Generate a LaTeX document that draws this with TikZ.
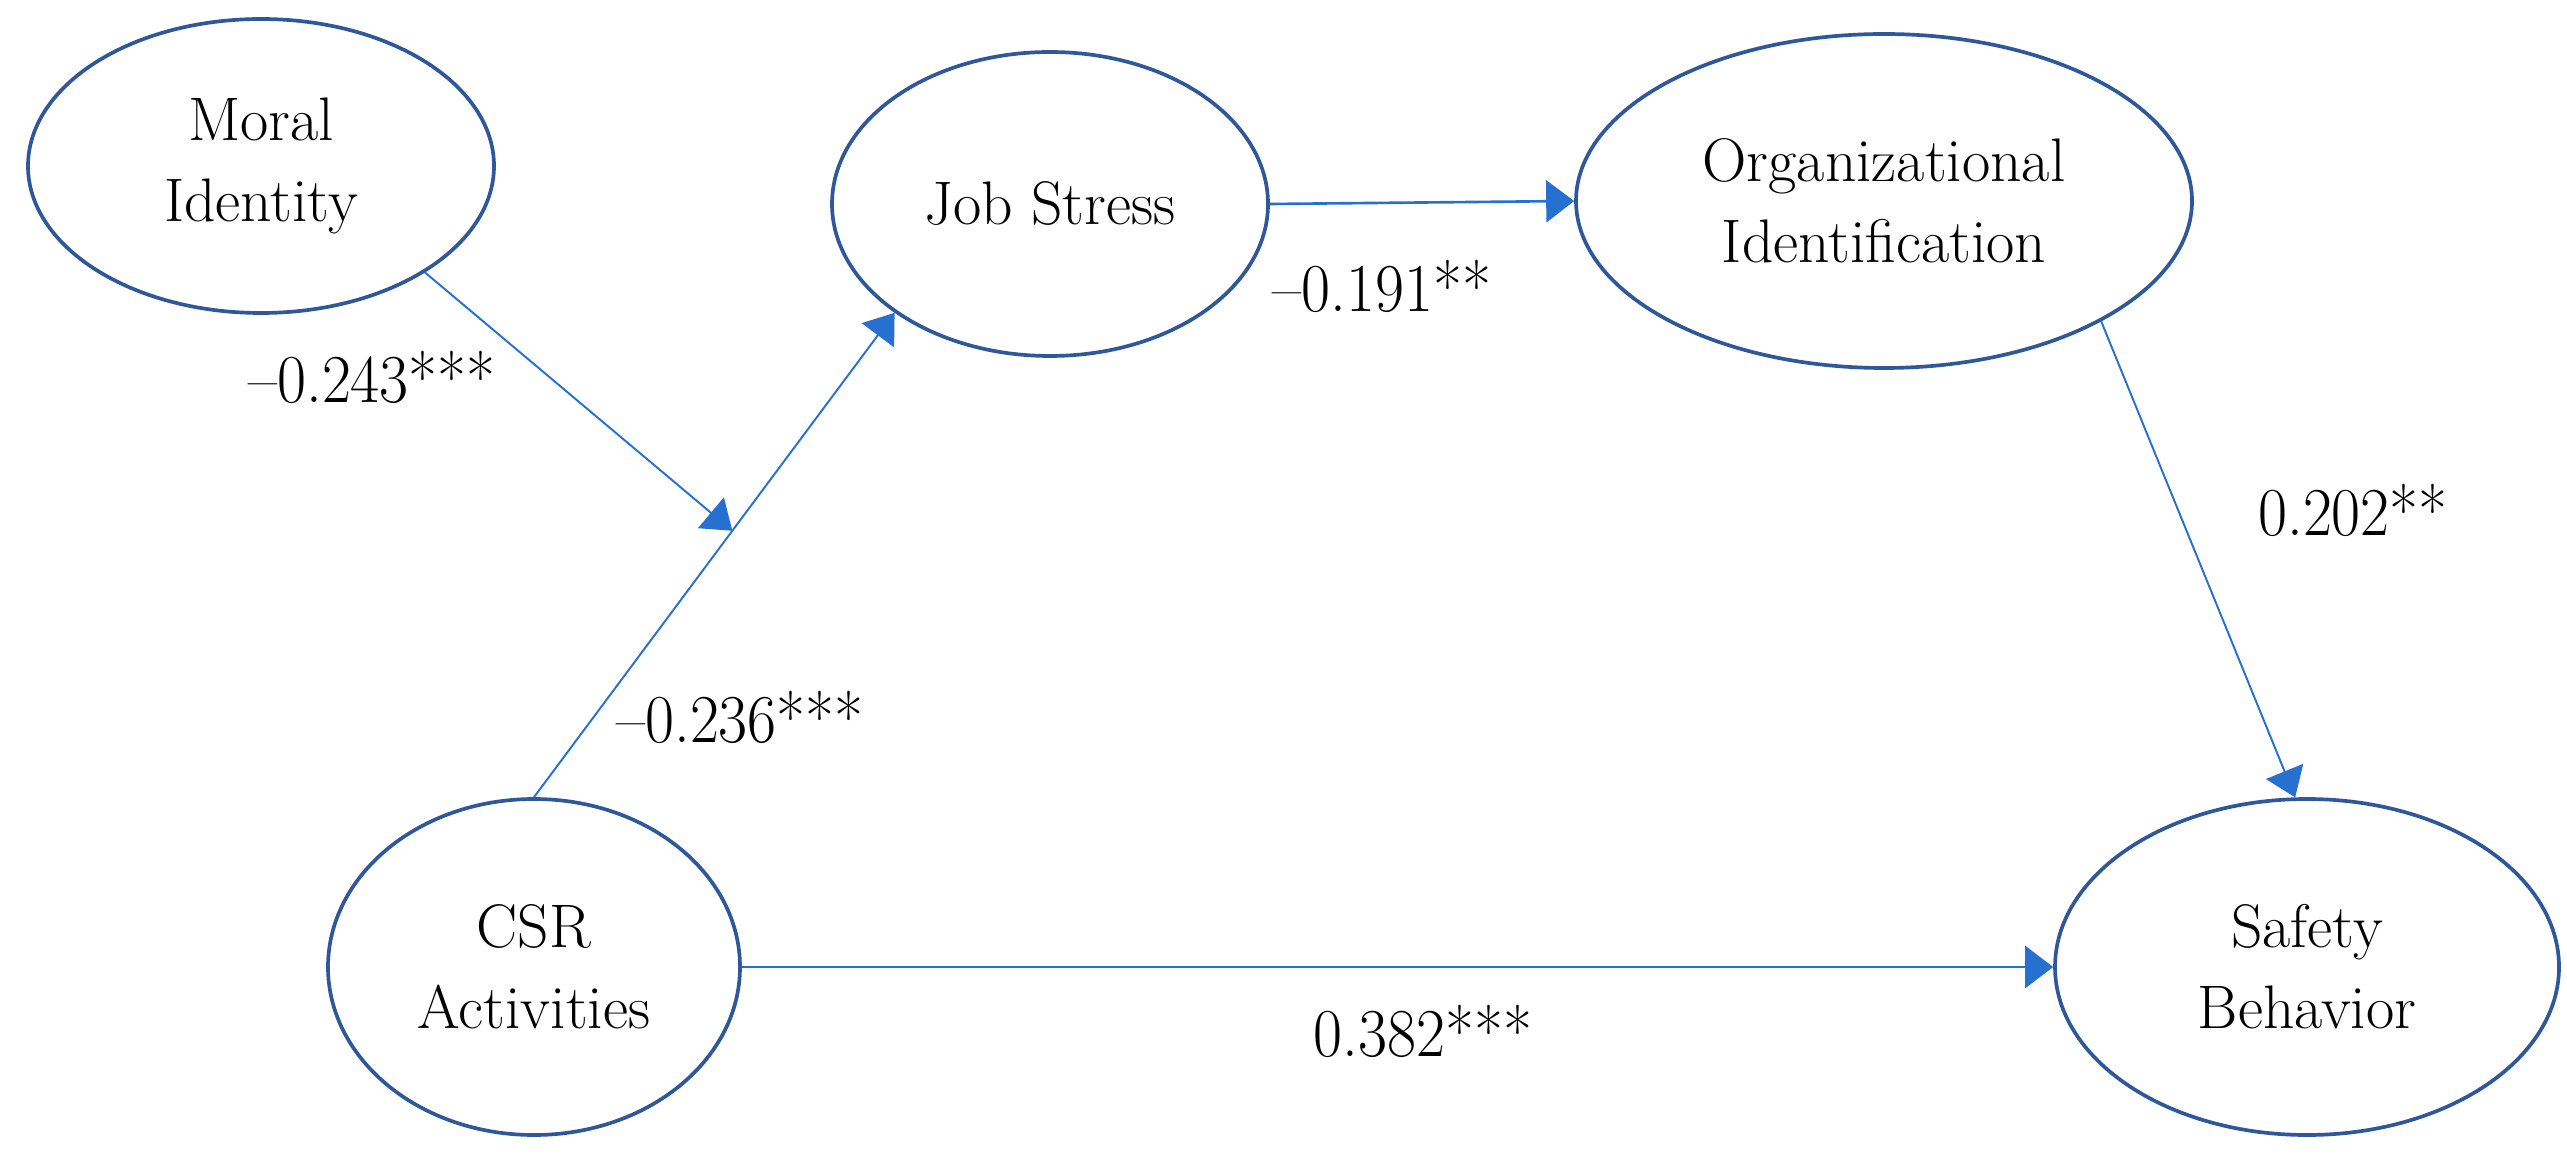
\documentclass[tikz,border=0pt]{standalone}
\usepackage{graphicx}
\usetikzlibrary{arrows.meta,shapes.geometric,calc}
\definecolor{ringblue}{RGB}{47,88,155}
\definecolor{arrowblue}{RGB}{38,112,208}
\newcommand{\lbltext}[1]{\scalebox{0.92}[1]{#1}}
\tikzset{
  construct/.style={ellipse, draw=ringblue, line width=1.05pt, inner sep=0pt,
    align=center, font=\fontsize{17.5}{23}\selectfont},
  pathlabel/.style={anchor=base, inner sep=0pt, font=\fontsize{19.5}{23}\selectfont},
  thickarrow/.style={draw=arrowblue, line width=0.75pt, -{Triangle[length=0.28cm,width=0.42cm]}},
  thinarrow/.style={draw=arrowblue, line width=0.55pt, -{Triangle[length=0.28cm,width=0.40cm]}}
}
\begin{document}
\begin{tikzpicture}
\useasboundingbox (0,0) rectangle (25.67,11.6);
% constructs
\node[construct, minimum width=4.66cm, minimum height=2.94cm] (moral) at (2.61,9.94) {Moral\\Identity};
\node[construct, minimum width=4.36cm, minimum height=3.04cm] (js) at (10.50,9.56) {Job Stress};
\node[construct, minimum width=6.16cm, minimum height=3.34cm] (org) at (18.84,9.59) {Organizational\\Identification};
\node[construct, minimum width=4.12cm, minimum height=3.36cm] (csr) at (5.34,1.93) {CSR\\Activities};
\node[construct, minimum width=5.04cm, minimum height=3.36cm] (safety) at (23.07,1.93) {Safety\\Behavior};
% moderation point
\coordinate (mod) at ($(csr.north)!0.55!(js.215)$);
% paths
\draw[thinarrow] (csr.north) -- (js.215);
\draw[thinarrow] (moral.327) -- (mod);
\draw[thickarrow] (js.east) -- (org.west);
\draw[thinarrow] (org.331) -- (safety.94);
\draw[thickarrow] (csr.east) -- (safety.west);
% labels
\node[pathlabel] (l1) at (3.72,7.57) {\lbltext{\textendash0.243***}};
\node[pathlabel] (l2) at (13.82,8.48) {\lbltext{\textendash0.191**}};
\node[pathlabel] (l3) at (23.53,6.24) {\lbltext{0.202**}};
\node[pathlabel] (l4) at (7.40,4.18) {\lbltext{\textendash0.236***}};
\node[pathlabel] (l5) at (14.23,1.04) {\lbltext{0.382***}};
\end{tikzpicture}
\end{document}
